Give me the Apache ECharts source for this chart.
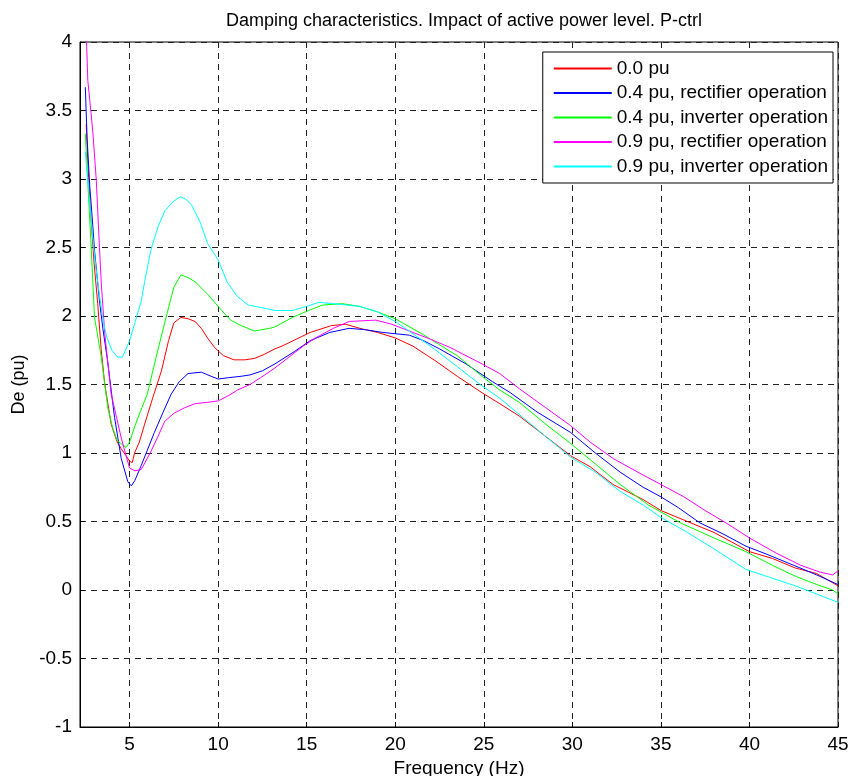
<!DOCTYPE html>
<html>
<head>
<meta charset="utf-8">
<script src="https://cdn.jsdelivr.net/npm/echarts@6/dist/echarts.min.js"></script>
<style>
  html, body { margin: 0; padding: 0; background: #fff; }
  #main { width: 850px; height: 776px; }
</style>
</head>
<body>
<div id="main"></div>
<script>
// legend names
var seriesNames = [
    "0.0 pu",
    "0.4 pu, rectifier operation",
    "0.4 pu, inverter operation",
    "0.9 pu, rectifier operation",
    "0.9 pu, inverter operation"
];

// [frequency Hz, De pu]
var p00 = [[2.55,3.4],[2.65,3.1],[2.8,2.75],[3.0,2.38],[3.2,2.09],[3.4,1.75],[3.6,1.5],[3.96,1.21],[4.3,1.08],[4.53,1.03],[4.8,0.98],[5.0,0.94],[5.15,0.93],[5.28,1.0],[5.55,1.08],[5.85,1.21],[6.3,1.4],[6.8,1.6],[7.2,1.82],[7.5,1.95],[7.9,1.99],[8.3,1.98],[8.7,1.96],[9.05,1.91],[9.4,1.84],[9.8,1.77],[10.3,1.71],[10.9,1.68],[11.5,1.68],[12.05,1.69],[12.6,1.72],[13.2,1.76],[13.6,1.78],[14.4,1.83],[15.2,1.88],[16.4,1.93],[17.2,1.94],[18,1.91],[19,1.88],[20,1.84],[21,1.78],[22.3,1.67],[23.5,1.56],[24.9,1.44],[25.9,1.36],[27,1.27],[28.5,1.12],[29.9,0.98],[31,0.9],[32.3,0.77],[34,0.66],[35,0.58],[36.5,0.5],[38,0.42],[39,0.35],[40,0.28],[41.3,0.23],[42.6,0.16],[43.8,0.12],[45,0.03]];

var p04r = [[2.5,3.67],[2.6,3.3],[2.75,2.95],[2.9,2.7],[3.02,2.48],[3.3,2.11],[3.5,1.9],[3.76,1.67],[4.15,1.26],[4.53,0.96],[4.9,0.79],[5.1,0.76],[5.3,0.8],[5.66,0.91],[6.0,1.02],[6.4,1.15],[6.9,1.3],[7.35,1.43],[7.8,1.52],[8.3,1.58],[9.05,1.59],[9.6,1.56],[10,1.54],[10.6,1.55],[11.3,1.56],[11.8,1.57],[12.5,1.6],[13.2,1.65],[14.3,1.74],[15.2,1.82],[16.3,1.88],[17.4,1.91],[18.3,1.9],[19.3,1.88],[20.8,1.86],[21.6,1.82],[22.5,1.76],[24,1.65],[25.5,1.52],[26.5,1.44],[28,1.3],[29.9,1.15],[31.3,1.0],[32.7,0.86],[34,0.75],[35,0.68],[36,0.6],[37.2,0.49],[38.5,0.41],[39.8,0.32],[41,0.26],[42.5,0.18],[43.8,0.11],[45,0.04]];

var p04i = [[2.5,3.33],[2.65,2.95],[2.84,2.48],[3.02,1.99],[3.4,1.7],[3.77,1.33],[4.05,1.18],[4.3,1.09],[4.8,1.04],[5.0,1.08],[5.28,1.19],[5.6,1.3],[6.0,1.43],[6.5,1.7],[6.98,1.95],[7.5,2.21],[7.9,2.3],[8.3,2.28],[8.7,2.25],[9.4,2.16],[10.2,2.04],[10.7,1.97],[11.3,1.93],[12.05,1.89],[12.9,1.91],[13.2,1.92],[14.2,1.99],[15.1,2.04],[15.9,2.08],[17,2.09],[18,2.07],[19,2.03],[20,1.98],[21.5,1.87],[23.5,1.71],[24.9,1.56],[25.9,1.46],[27,1.37],[28.5,1.21],[29.9,1.07],[31.3,0.92],[32.7,0.77],[34.3,0.62],[36.1,0.49],[38,0.38],[39.8,0.28],[41.3,0.18],[42.6,0.1],[43.8,0.04],[44.7,0.0],[45,-0.03]];

var p09r = [[2.45,4.2],[2.57,4.0],[2.64,3.72],[2.84,3.46],[2.95,3.3],[3.12,2.99],[3.3,2.5],[3.4,2.24],[3.6,1.87],[3.96,1.43],[4.53,1.11],[4.8,0.98],[5,0.89],[5.3,0.87],[5.66,0.88],[6.2,1.01],[6.6,1.12],[6.98,1.23],[7.5,1.29],[8.1,1.33],[8.7,1.36],[9.4,1.37],[10,1.38],[10.6,1.42],[11.1,1.46],[11.8,1.5],[12.4,1.55],[13.2,1.62],[14,1.7],[14.8,1.78],[15.5,1.84],[16.5,1.91],[17.4,1.96],[18.9,1.97],[19.8,1.94],[20.8,1.89],[22,1.83],[23.1,1.77],[24.9,1.65],[25.9,1.58],[27,1.47],[28.5,1.33],[29.9,1.2],[31,1.08],[32.3,0.96],[33.7,0.86],[35,0.77],[36.3,0.68],[37.5,0.58],[38.8,0.48],[40,0.38],[41.5,0.27],[42.9,0.18],[44,0.13],[44.7,0.11],[45,0.14]];

var p09i = [[2.5,3.2],[2.7,2.9],[2.9,2.6],[3.1,2.35],[3.3,2.15],[3.5,1.97],[3.7,1.85],[4.0,1.75],[4.32,1.7],[4.6,1.7],[5,1.82],[5.3,1.95],[5.66,2.11],[5.85,2.25],[6.2,2.48],[6.6,2.65],[7.0,2.77],[7.5,2.84],[7.88,2.87],[8.2,2.85],[8.5,2.81],[9.0,2.68],[9.4,2.53],[10,2.41],[10.5,2.25],[11.1,2.14],[11.7,2.08],[12.5,2.06],[13.2,2.04],[14.2,2.04],[15,2.07],[15.7,2.1],[16.5,2.09],[18,2.07],[19,2.03],[20,1.96],[21,1.87],[22.1,1.77],[23.5,1.63],[24.9,1.49],[25.9,1.4],[27.3,1.25],[28.5,1.12],[29.9,0.97],[31.3,0.86],[32.7,0.72],[34,0.62],[35,0.53],[36.5,0.42],[38,0.3],[39.8,0.15],[41.2,0.09],[42.6,0.03],[43.8,-0.03],[45,-0.09]];

var allData = [p00, p04r, p04i, p09r, p09i];
var colors = ["#ff0000", "#0000ff", "#00ff00", "#ff00ff", "#00ffff"];

var chart = echarts.init(document.getElementById("main"));
var font = "Liberation Sans, Arial, sans-serif";

var series = [];
for (var i = 0; i < allData.length; i++) {
    series.push({
        name: seriesNames[i],
        type: "line",
        data: allData[i],
        showSymbol: false,
        symbol: "none",
        lineStyle: { color: colors[i], width: 1 },
        itemStyle: { color: colors[i] },
        clip: true,
        z: 3
    });
}

var option = {
    animation: false,
    backgroundColor: "#fff",
    title: {
        text: "Damping characteristics. Impact of active power level. P-ctrl",
        left: 459,
        top: 7,
        textAlign: "center",
        textStyle: { fontFamily: font, fontSize: 18, fontWeight: "normal", color: "#000" }
    },
    grid: {
        left: 80, right: 12, top: 42, bottom: 49,
        show: true, borderColor: "#000", borderWidth: 1,
        containLabel: false,
        outerBoundsMode: "none"
    },
    legend: {
        orient: "vertical",
        right: 17,
        top: 52,
        backgroundColor: "#fff",
        borderColor: "#000",
        borderWidth: 1,
        borderRadius: 0,
        padding: [6, 5, 6, 11],
        itemWidth: 58,
        itemHeight: 2,
        itemGap: 3.5,
        icon: "rect",
        textStyle: { fontFamily: font, fontSize: 19, color: "#000", lineHeight: 21 },
        data: seriesNames
    },
    xAxis: {
        type: "value",
        min: 2.2,
        max: 45,
        splitNumber: 9,
        name: "Frequency (Hz)",
        nameLocation: "middle",
        nameGap: 30,
        nameTextStyle: { fontFamily: font, fontSize: 19, color: "#000" },
        axisLine: { show: true, onZero: false, lineStyle: { color: "#000" } },
        axisTick: { show: true, inside: true, length: 5, lineStyle: { color: "#000" } },
        axisLabel: { fontFamily: font, fontSize: 19, color: "#000", margin: 8, showMinLabel: false },
        splitLine: { show: true, lineStyle: { color: "#222", type: [6, 5], width: 1 } }
    },
    yAxis: {
        type: "value",
        min: -1,
        max: 4,
        interval: 0.5,
        name: "De (pu)",
        nameLocation: "middle",
        nameGap: 49,
        nameTextStyle: { fontFamily: font, fontSize: 18, color: "#000" },
        axisLine: { show: true, onZero: false, lineStyle: { color: "#000" } },
        axisTick: { show: true, inside: true, length: 5, lineStyle: { color: "#000" } },
        axisLabel: { fontFamily: font, fontSize: 19, color: "#000", margin: 8 },
        splitLine: { show: true, lineStyle: { color: "#222", type: [6, 5], width: 1 } }
    },
    series: series
};
chart.setOption(option);
</script>
</body>
</html>
